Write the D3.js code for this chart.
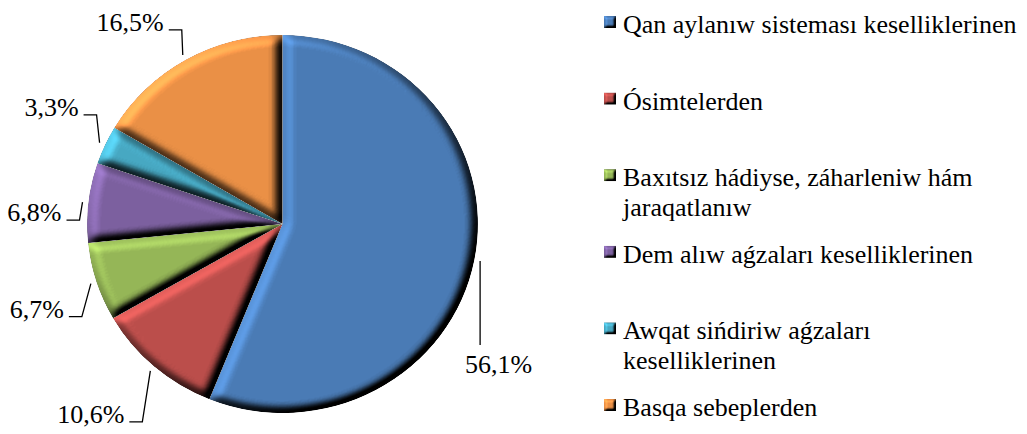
<!DOCTYPE html>
<html lang="kaa">
<head>
<meta charset="utf-8">
<title>Pie</title>
<script src="https://d3js.org/d3.v7.min.js"></script>
<style>
  body { margin: 0; background: #fff; }
  svg text { font-family: "Liberation Serif", "Times New Roman", Times, "DejaVu Serif", serif; fill: #000; }
  .lbl { font-size: 26px; }
  .leg { font-size: 26px; }
  .leader { fill: none; stroke: #000; stroke-width: 1.3px; }
</style>
</head>
<body>
<script>
// data
const categories = [
  "Qan aylanıw sisteması keselliklerinen",
  "Ósimtelerden",
  "Baxıtsız hádiyse, záharleniw hám\njaraqatlanıw",
  "Dem alıw aǵzaları keselliklerinen",
  "Awqat sińdiriw aǵzaları\nkeselliklerinen",
  "Basqa sebeplerden"
];
const shares = [56.1, 10.6, 6.7, 6.8, 3.3, 16.5];
const colors = ["#4a7bb5", "#bb4e4b", "#95b657", "#7c609f", "#47a8c2", "#ea9046"];

// label elbow nudges (px) relative to the leader start
const labelNudge = [[0, 84], [-8, 51], [-9, 33], [-3, 18], [-3, -28], [-1, -25]];

const W = 1027, H = 434;
const cx = 282.5, cy = 224, r = 189, sx = 1.034;
const serif = "'Liberation Serif', 'Times New Roman', Times, 'DejaVu Serif', serif";

const fmt = d3.formatLocale({decimal: ",", thousands: " ", grouping: [3], currency: ["", ""]}).format(".1f");

const svg = d3.select("body").append("svg")
  .attr("width", W)
  .attr("height", H)
  .attr("font-family", serif);

// bevel look: blurred alpha used as a height map, lit from the top left
const defs = svg.append("defs");
function bevel(id, sd, scale) {
  const f = defs.append("filter").attr("id", id)
    .attr("x", "-5%").attr("y", "-5%").attr("width", "110%").attr("height", "110%")
    .attr("color-interpolation-filters", "sRGB");
  f.append("feGaussianBlur").attr("in", "SourceAlpha").attr("stdDeviation", sd).attr("result", "blur");
  f.append("feDiffuseLighting").attr("in", "blur").attr("surfaceScale", scale)
    .attr("diffuseConstant", 1).attr("lighting-color", "#fff").attr("result", "diff")
    .append("feDistantLight").attr("azimuth", 225).attr("elevation", 50);
  f.append("feComposite").attr("in", "SourceGraphic").attr("in2", "diff")
    .attr("operator", "arithmetic").attr("k1", 1.305).attr("k2", 0).attr("k3", 0).attr("k4", 0)
    .attr("result", "lit");
  f.append("feComposite").attr("in", "lit").attr("in2", "SourceAlpha").attr("operator", "in");
}
bevel("bevel", 5, 10);
bevel("bevelSmall", 1.5, 4);

const pie = d3.pie().sort(null).value(d => d);
const arcs = pie(shares);
const arc = d3.arc().innerRadius(0).outerRadius(r);

const g = svg.append("g")
  .attr("transform", `translate(${cx},${cy}) scale(${sx},1)`);

g.selectAll("path.slice")
  .data(arcs)
  .join("path")
  .attr("class", "slice")
  .attr("d", arc)
  .attr("fill", (d, i) => colors[i])
  .attr("filter", "url(#bevel)");

// leader lines and labels
const lab = svg.append("g");
arcs.forEach((d, i) => {
  const a = (d.startAngle + d.endAngle) / 2;
  const x0 = cx + Math.sin(a) * r * 1.03 * sx;
  const y0 = cy - Math.cos(a) * r * 1.03;
  const x1 = x0 + labelNudge[i][0];
  const y1 = y0 + labelNudge[i][1];
  const txt = fmt(shares[i]) + "%";
  if (Math.sin(a) > 0) {
    lab.append("path").attr("class", "leader")
      .attr("d", `M${x0},${y0}L${x1},${y1}`);
    lab.append("text").attr("class", "lbl")
      .attr("x", x1 - 15).attr("y", y1 + 28).text(txt);
  } else {
    lab.append("path").attr("class", "leader")
      .attr("d", `M${x0},${y0}L${x1},${y1}L${x1 - 13},${y1}`);
    lab.append("text").attr("class", "lbl")
      .attr("text-anchor", "end")
      .attr("x", x1 - 18).attr("y", y1 + 1).text(txt);
  }
});

// legend
const legX = 604, legY = 33, legStep = 76.6;
const leg = svg.append("g");
categories.forEach((c, i) => {
  const y = legY + i * legStep;
  leg.append("rect")
    .attr("x", legX).attr("y", y - 17)
    .attr("width", 12).attr("height", 12)
    .attr("fill", colors[i])
    .attr("filter", "url(#bevelSmall)");
  const t = leg.append("text").attr("class", "leg").attr("x", legX + 19).attr("y", y);
  c.split("\n").forEach((line, j) => {
    t.append("tspan").attr("x", legX + 19).attr("dy", j ? 30 : 0).text(line);
  });
});
</script>
</body>
</html>
